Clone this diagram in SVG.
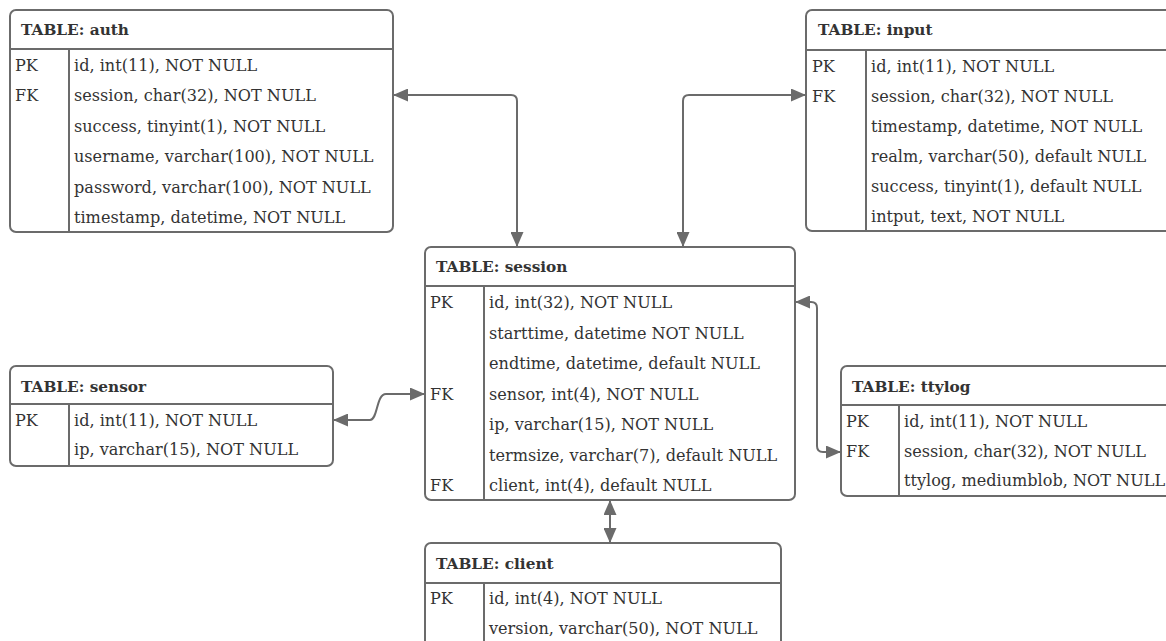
<svg xmlns="http://www.w3.org/2000/svg" width="1166" height="641" viewBox="0 0 1166 641">
<style>
.box{fill:#fff;stroke:#6b6b6b;stroke-width:2}
.ln{stroke:#6b6b6b;stroke-width:2;fill:none}
.h{font-family:"DejaVu Serif","Liberation Serif",serif;font-weight:bold;font-size:15.3px;fill:#333}
.t{font-family:"DejaVu Serif","Liberation Serif",serif;font-size:16.1px;fill:#333}
.c{stroke:#6b6b6b;stroke-width:2;fill:none;marker-start:url(#ah);marker-end:url(#ah)}
</style>
<defs>
<marker id="ah" viewBox="0 0 15 13" refX="15" refY="6.5" markerWidth="15" markerHeight="13" markerUnits="userSpaceOnUse" orient="auto-start-reverse">
<path d="M0,0 L15,6.5 L0,13 Z" fill="#6b6b6b"/>
</marker>
</defs>
<rect width="1166" height="641" fill="#fff"/>
<g id="connectors">
<path class="c" d="M393 95 H511 Q517 95 517 101 V247"/>
<path class="c" d="M683 247 V101 Q683 95 689 95 H806"/>
<path class="c" d="M333 420 H370 C378 420 376 394 386 394 H425"/>
<path class="c" d="M795 302 H811 Q817 302 817 308 V446 Q817 452 823 452 H841"/>
<path class="c" d="M610 500 V543"/>
</g>
<g id="auth">
<rect class="box" x="10" y="10" width="383" height="222" rx="6"/>
<path class="ln" d="M10 49 H393 M69 49 V232"/>
<text class="h" x="21" y="35">TABLE: auth</text>
<text class="t" x="15" y="71">PK</text>
<text class="t" x="15" y="101.4">FK</text>
<text class="t" x="74" y="71">id, int(11), NOT NULL</text>
<text class="t" x="74" y="101.4">session, char(32), NOT NULL</text>
<text class="t" x="74" y="131.8">success, tinyint(1), NOT NULL</text>
<text class="t" x="74" y="162.2">username, varchar(100), NOT NULL</text>
<text class="t" x="74" y="192.6">password, varchar(100), NOT NULL</text>
<text class="t" x="74" y="223">timestamp, datetime, NOT NULL</text>
</g>
<g id="input">
<rect class="box" x="806" y="10" width="380" height="221" rx="6"/>
<path class="ln" d="M806 50 H1186 M866 50 V231"/>
<text class="h" x="818" y="35">TABLE: input</text>
<text class="t" x="812" y="72">PK</text>
<text class="t" x="812" y="102">FK</text>
<text class="t" x="871" y="72">id, int(11), NOT NULL</text>
<text class="t" x="871" y="102">session, char(32), NOT NULL</text>
<text class="t" x="871" y="132">timestamp, datetime, NOT NULL</text>
<text class="t" x="871" y="162">realm, varchar(50), default NULL</text>
<text class="t" x="871" y="192">success, tinyint(1), default NULL</text>
<text class="t" x="871" y="222">intput, text, NOT NULL</text>
</g>
<g id="session">
<rect class="box" x="425" y="247" width="370" height="253" rx="6"/>
<path class="ln" d="M425 286 H795 M484 286 V500"/>
<text class="h" x="436" y="272">TABLE: session</text>
<text class="t" x="430" y="308">PK</text>
<text class="t" x="430" y="399.6">FK</text>
<text class="t" x="430" y="491">FK</text>
<text class="t" x="489" y="308">id, int(32), NOT NULL</text>
<text class="t" x="489" y="338.5">starttime, datetime NOT NULL</text>
<text class="t" x="489" y="369">endtime, datetime, default NULL</text>
<text class="t" x="489" y="399.5">sensor, int(4), NOT NULL</text>
<text class="t" x="489" y="430">ip, varchar(15), NOT NULL</text>
<text class="t" x="489" y="460.5">termsize, varchar(7), default NULL</text>
<text class="t" x="489" y="491">client, int(4), default NULL</text>
</g>
<g id="sensor">
<rect class="box" x="10" y="366" width="323" height="100" rx="6"/>
<path class="ln" d="M10 404 H333 M69 404 V466"/>
<text class="h" x="21" y="392">TABLE: sensor</text>
<text class="t" x="15" y="426">PK</text>
<text class="t" x="74" y="426">id, int(11), NOT NULL</text>
<text class="t" x="74" y="455">ip, varchar(15), NOT NULL</text>
</g>
<g id="ttylog">
<rect class="box" x="841" y="366" width="345" height="130" rx="6"/>
<path class="ln" d="M841 405 H1186 M899 405 V496"/>
<text class="h" x="852" y="392">TABLE: ttylog</text>
<text class="t" x="846" y="427">PK</text>
<text class="t" x="846" y="457">FK</text>
<text class="t" x="904" y="427">id, int(11), NOT NULL</text>
<text class="t" x="904" y="457">session, char(32), NOT NULL</text>
<text class="t" x="904" y="486">ttylog, mediumblob, NOT NULL</text>
</g>
<g id="client">
<rect class="box" x="425" y="543" width="356" height="110" rx="6"/>
<path class="ln" d="M425 583 H781 M484 583 V653"/>
<text class="h" x="436" y="569">TABLE: client</text>
<text class="t" x="430" y="604">PK</text>
<text class="t" x="489" y="604">id, int(4), NOT NULL</text>
<text class="t" x="489" y="634">version, varchar(50), NOT NULL</text>
</g>
</svg>
